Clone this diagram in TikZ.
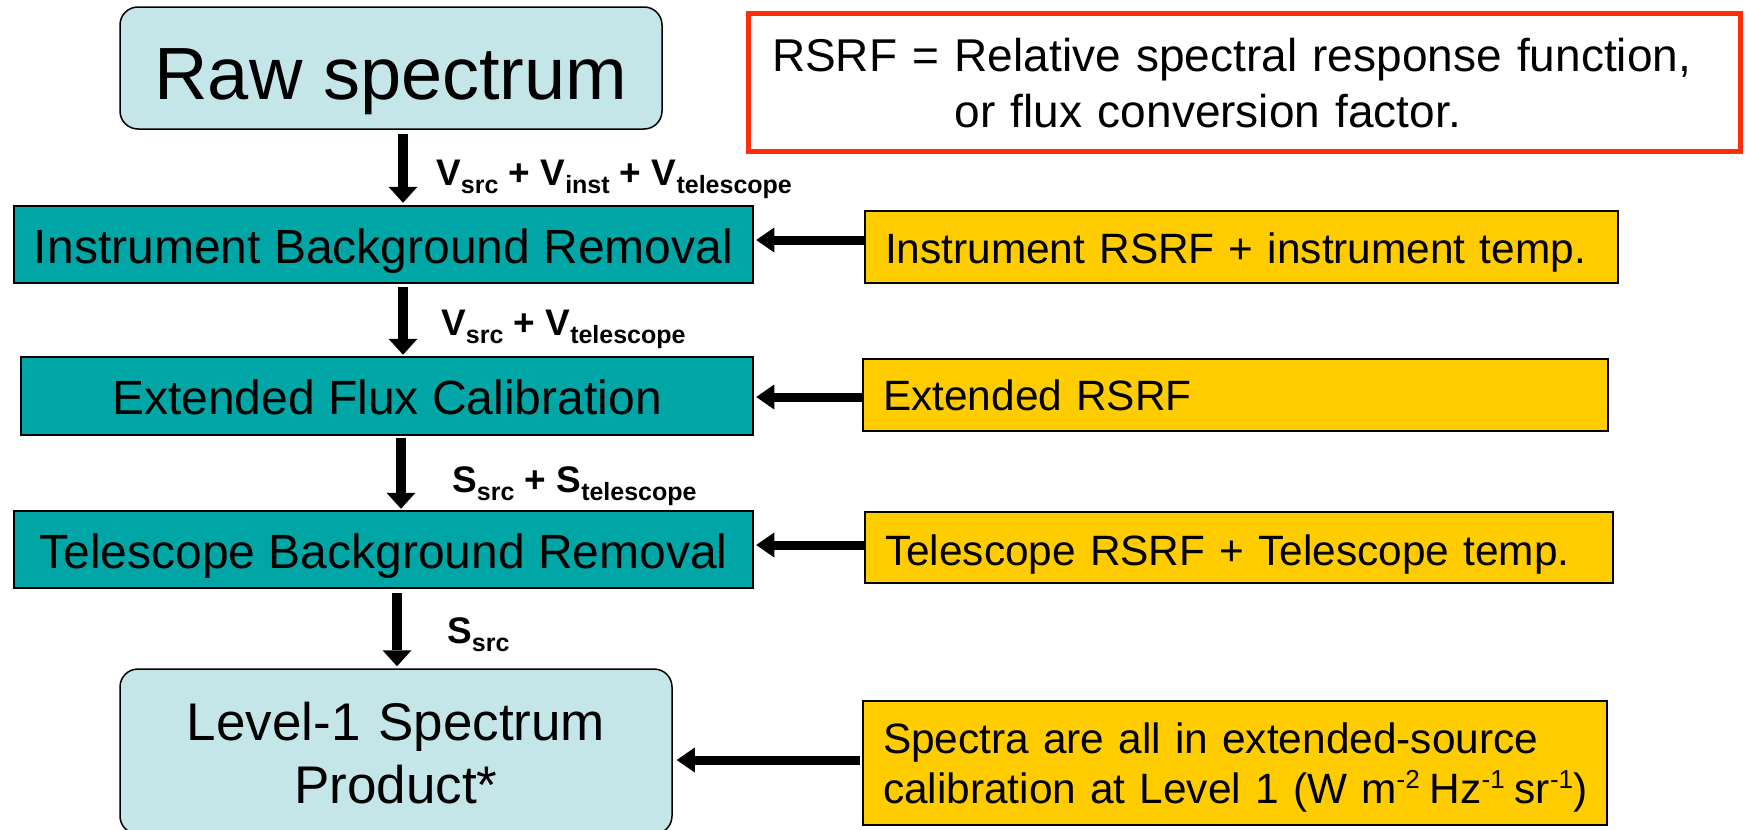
\documentclass[tikz,border=0pt]{standalone}
\usepackage{fontspec}
\setmainfont{Liberation Sans}
\usetikzlibrary{arrows.meta}

\definecolor{paleblue}{RGB}{197,230,232}
\definecolor{tealfill}{RGB}{0,166,166}
\definecolor{gold}{RGB}{255,204,0}
\definecolor{alertred}{RGB}{255,45,10}

% lowered / raised small text for subscripts and exponents
\newcommand\lowsub[1]{\raisebox{-8pt}{\fontsize{25}{25}\selectfont #1}}
\newcommand\hisup[1]{\raisebox{15pt}{\fontsize{26}{26}\selectfont #1}}

\tikzset{
  endbox/.style={draw=black, line width=1.5pt, fill=paleblue, rounded corners=18pt,
                 inner sep=0pt},
  stagebox/.style={draw=black, line width=2.5pt, fill=tealfill, inner sep=0pt,
                   font=\fontsize{48}{56}\selectfont},
  inputbox/.style={draw=black, line width=2.5pt, fill=gold, inner xsep=20pt, inner ysep=0pt,
                   align=left, font=\fontsize{42.4}{50}\selectfont},
  notebox/.style={draw=alertred, line width=5pt, fill=white, inner xsep=24pt, inner ysep=0pt,
                  align=left, font=\fontsize{46}{56}\selectfont},
  flowlabel/.style={anchor=base west, inner sep=0pt, font=\fontsize{37}{40}\selectfont\bfseries},
  varrow/.style={line width=10pt, -{Triangle[length=16pt,width=29pt,line width=0pt]}},
  harrow/.style={line width=9pt, -{Triangle[length=18pt,width=25pt,line width=0pt]}},
}

\begin{document}
\begin{tikzpicture}[x=1pt,y=-1pt]
\useasboundingbox (0,0) rectangle (1746,830);

% main processing chain
\node[endbox, minimum width=542pt, minimum height=122pt, text height=76pt, text depth=14pt,
      font=\fontsize{74}{80}\selectfont] (raw) at (391,68) {Raw spectrum};
\node[stagebox, minimum width=739pt, minimum height=77pt, text height=48pt, text depth=11pt]
      (ibr) at (383.5,244.5) {Instrument Background Removal};
\node[stagebox, minimum width=732pt, minimum height=78pt, text height=47pt, text depth=11pt]
      (efc) at (387,396) {Extended Flux Calibration};
\node[stagebox, minimum width=739pt, minimum height=77pt, text height=48pt, text depth=11pt]
      (tbr) at (383.5,549.5) {Telescope Background Removal};
\node[endbox, text width=552pt, align=center, minimum height=165pt, text height=40pt, text depth=63pt,
      font=\fontsize{53}{63}\selectfont] (lvl) at (396,751.5) {Level-1 Spectrum\\Product*};

% definition note
\node[notebox, text width=944pt, minimum height=138pt, text height=36pt, text depth=56.6pt]
      (note) at (1244,82)
      {RSRF = Relative spectral response function,\\\hphantom{RSRF = }or flux conversion factor.};

% calibration inputs
\node[inputbox, text width=713pt, minimum height=72pt, text height=42pt, text depth=10pt]
      (in1) at (1241.5,247) {Instrument RSRF + instrument temp.};
\node[inputbox, text width=705pt, minimum height=72pt, text height=40pt, text depth=10pt]
      (in2) at (1235.5,395) {Extended RSRF};
\node[inputbox, text width=708pt, minimum height=71pt, text height=44pt, text depth=9pt]
      (in3) at (1239,547.5) {Telescope RSRF + Telescope temp.};
\node[inputbox, text width=704pt, minimum height=124pt, text height=34pt, text depth=54pt]
      (in4) at (1235,763)
      {Spectra are all in extended-source\\\mbox{calibration at Level 1 (W m\hisup{-2}\hspace{10pt}Hz\hisup{-1}\hspace{10pt}sr\hisup{-1})}};

% signal content between stages
\node[flowlabel] (l1) at (436,185) {V\lowsub{src} + V\lowsub{inst} + V\lowsub{telescope}};
\node[flowlabel] (l2) at (441,335) {V\lowsub{src} + V\lowsub{telescope}};
\node[flowlabel] (l3) at (452,492) {S\lowsub{src} + S\lowsub{telescope}};
\node[flowlabel] (l4) at (447,643) {S\lowsub{src}};

% downward flow
\draw[varrow] ([xshift=12pt,yshift=-4pt]raw.south) -- ([xshift=19.5pt,yshift=2pt]ibr.north);
\draw[varrow] ([xshift=19.5pt,yshift=-3pt]ibr.south) -- ([xshift=16pt,yshift=1pt]efc.north);
\draw[varrow] ([xshift=14pt,yshift=-2pt]efc.south) -- ([xshift=17.5pt,yshift=1pt]tbr.north);
\draw[varrow] ([xshift=13.5pt,yshift=-4pt]tbr.south) -- ([xshift=1pt,yshift=2pt]lvl.north);

% inputs feeding the stages
\draw[harrow] ([yshift=7pt]in1.west) -- ([xshift=2pt,yshift=4.5pt]ibr.east);
\draw[harrow] ([yshift=-2pt]in2.west) -- ([xshift=2pt,yshift=-1pt]efc.east);
\draw[harrow] ([yshift=2.5pt]in3.west) -- ([xshift=2pt,yshift=4.5pt]tbr.east);
\draw[harrow] ([xshift=-2pt,yshift=3pt]in4.west) -- ([xshift=4pt,yshift=-8.5pt]lvl.east);
\end{tikzpicture}
\end{document}
